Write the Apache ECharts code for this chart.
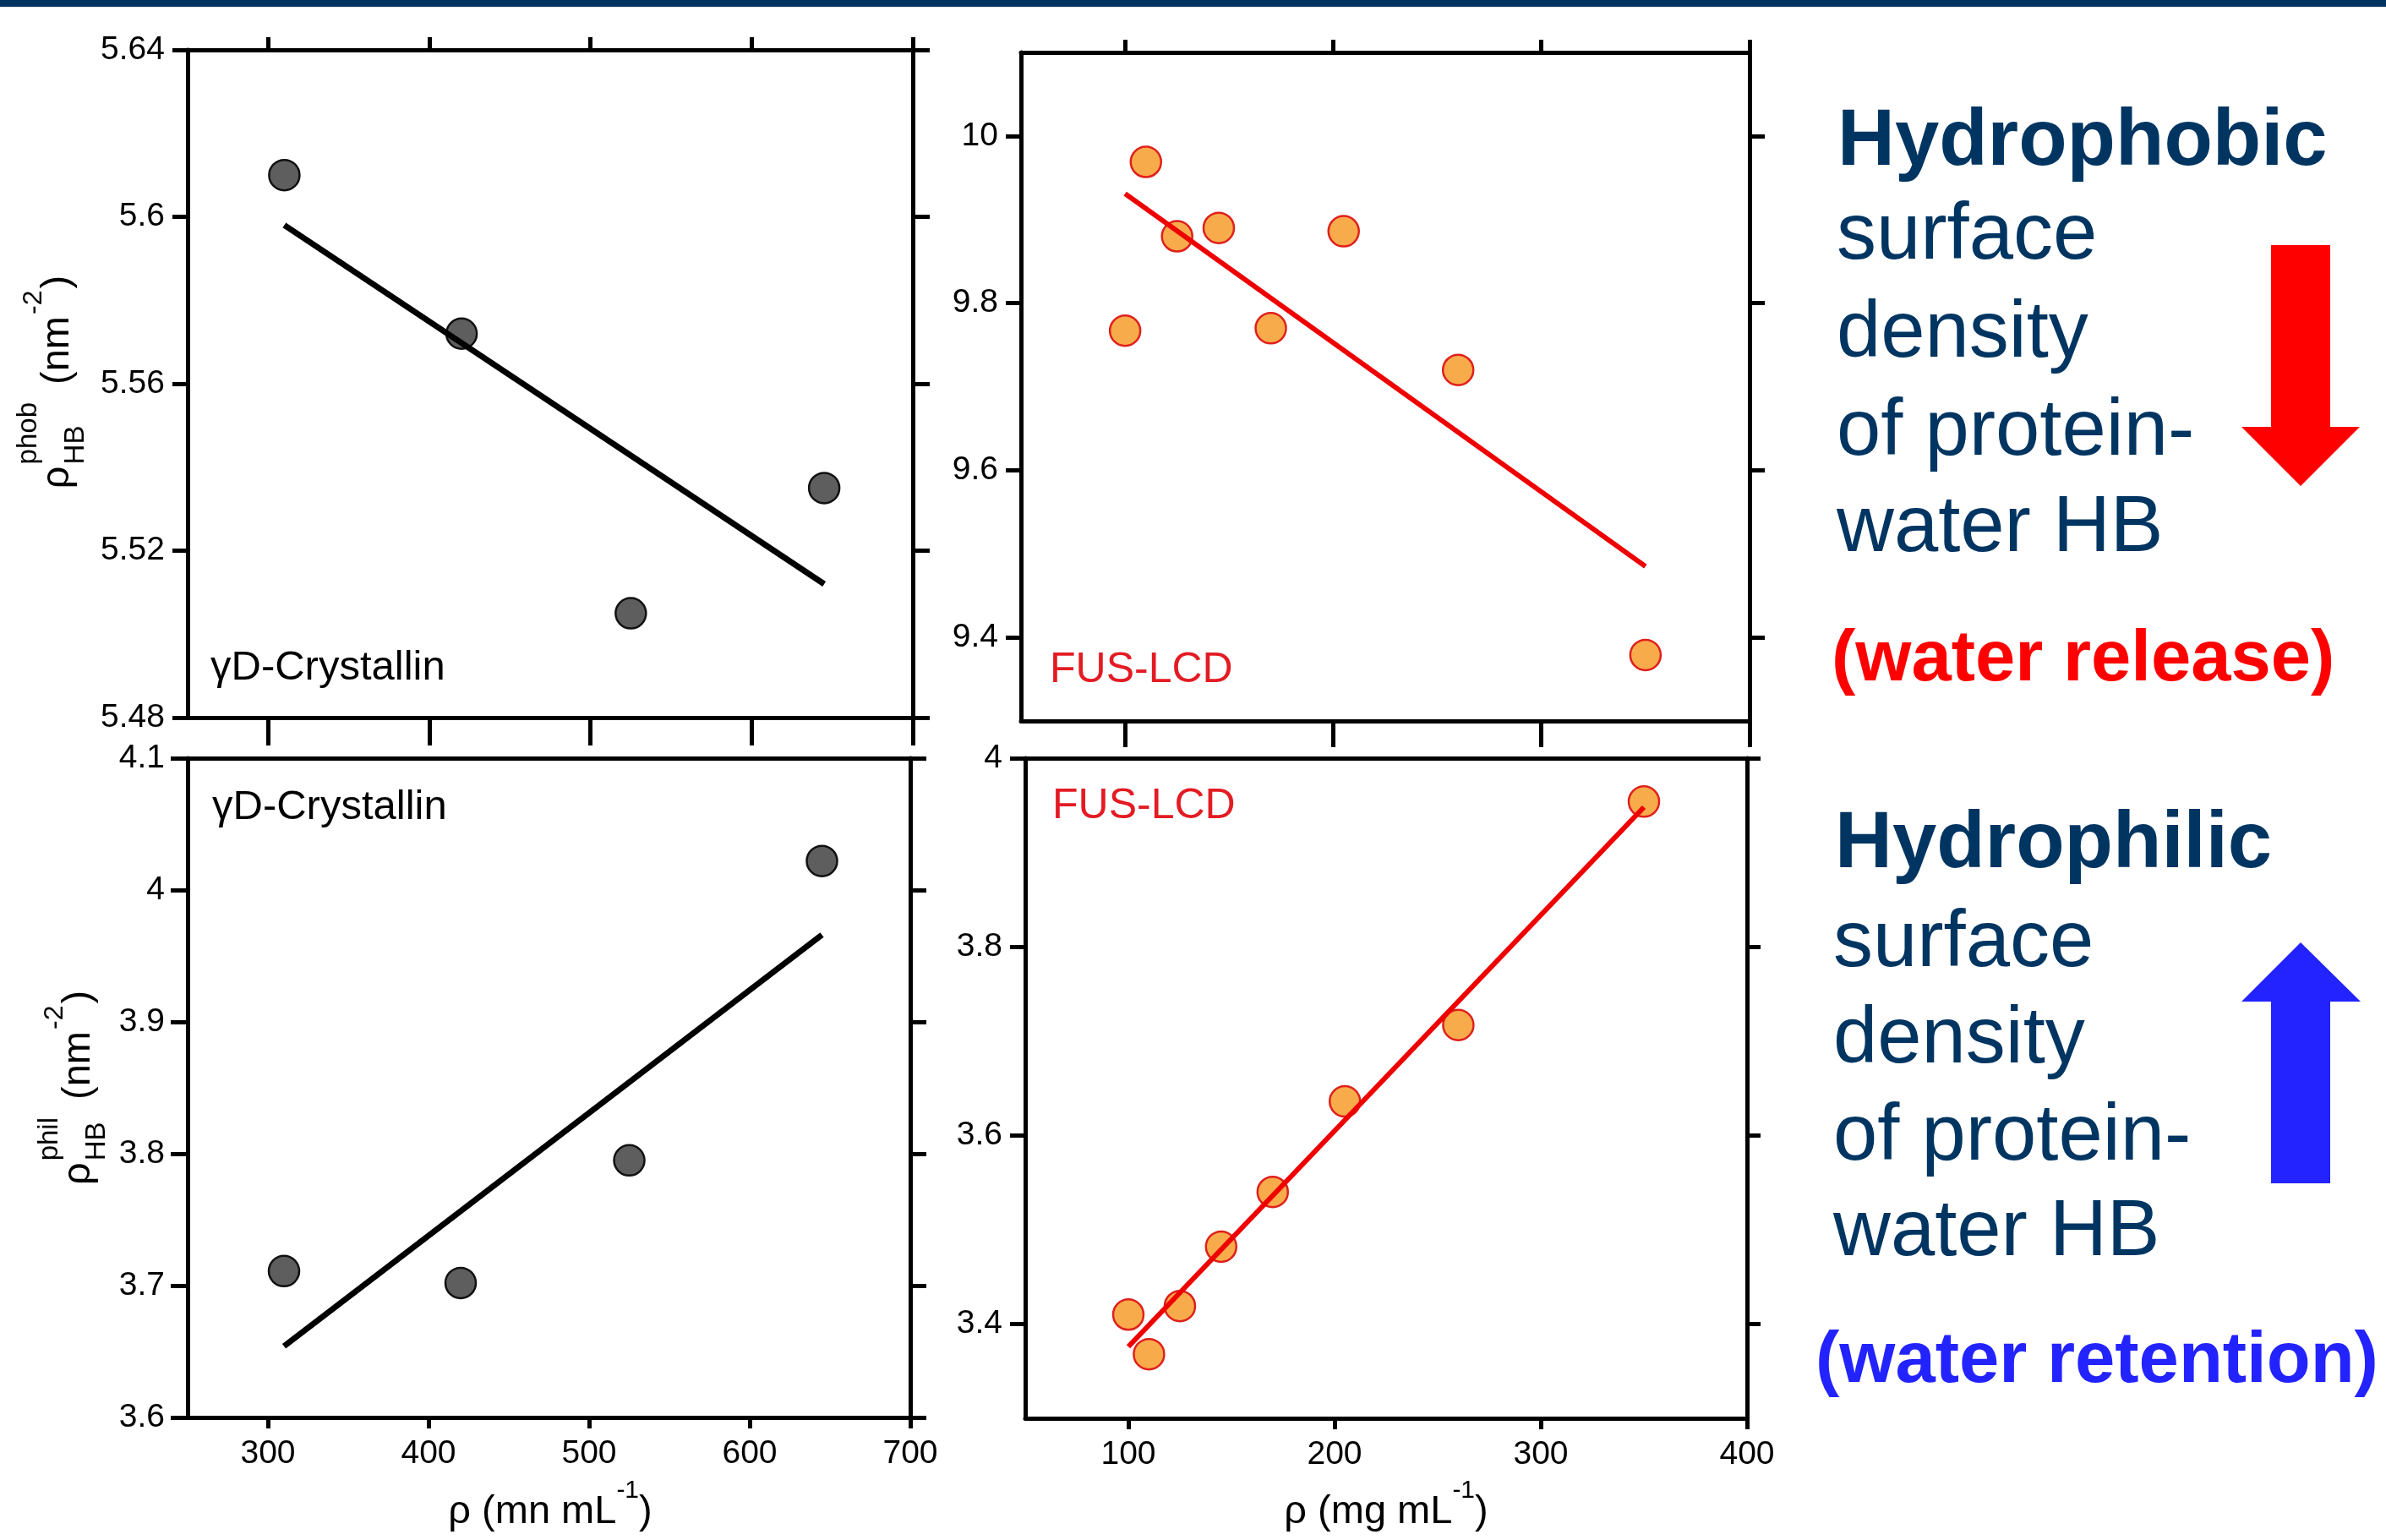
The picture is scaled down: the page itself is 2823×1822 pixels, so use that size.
<!DOCTYPE html>
<html>
<head>
<meta charset="utf-8">
<title>Protein-water HB surface density</title>
<script src="https://cdn.jsdelivr.net/npm/echarts@6/dist/echarts.min.js"></script>
<style>
  html, body { margin: 0; padding: 0; background: #ffffff; }
  #chart { width: 2823px; height: 1822px; }
</style>
</head>
<body>
<div id="chart"></div>
<script>
// gammaD-Crystallin: concentration and HB surface densities
const crysRho = [310, 420, 525, 645];
const crysPhob = [5.610, 5.572, 5.505, 5.535];
const crysPhil = [3.711, 3.702, 3.795, 4.022];
// fit lines as drawn (end points)
const crysFitRho = [310, 645];
const crysPhobFit = [5.598, 5.512];
const crysPhilFit = [3.654, 3.966];

// FUS-LCD
const fusRho = [100, 110, 125, 145, 170, 205, 260, 350];
const fusPhob = [9.767, 9.969, 9.880, 9.890, 9.770, 9.886, 9.720, 9.379];
const fusPhil = [3.410, 3.368, 3.419, 3.482, 3.540, 3.636, 3.717, 3.954];
const fusFitRho = [100, 350];
const fusPhobFit = [9.931, 9.485];
const fusPhilFit = [3.376, 3.948];

// tick values
const crysRhoTicks = [300, 400, 500, 600, 700];
const fusRhoTicks = [100, 200, 300, 400];
const crysPhobTicks = [5.48, 5.52, 5.56, 5.6, 5.64];
const crysPhilTicks = [3.6, 3.7, 3.8, 3.9, 4, 4.1];
const fusPhobTicks = [9.4, 9.6, 9.8, 10];
const fusPhilTicks = [3.4, 3.6, 3.8, 4];

// side notes
const phobHead = 'Hydrophobic';
const philHead = 'Hydrophilic';
const noteLines = ['surface', 'density', 'of protein-', 'water HB'];
const phobNote = '(water release)';
const philNote = '(water retention)';

const FONT = '"Liberation Sans", Arial, sans-serif';
const NAVY = '#003562';
const MID = 0.3; // em offset from baseline to text middle

const ctx = document.createElement('canvas').getContext('2d');
function textWidth(t, size, weight) {
    ctx.font = (weight || 'normal') + ' ' + size + 'px ' + FONT;
    return ctx.measureText(t).width;
}

// text pieces with super/subscripts, centred on the group origin, baseline at y=0
function composite(parts, color) {
    let x = 0, stackW = 0;
    const kids = [];
    parts.forEach(p => {
        const w = textWidth(p.t, p.s) + (p.gap || 0);
        kids.push({
            type: 'text', x: x, y: -(p.r || 0) - MID * p.s,
            style: { text: p.t, fontSize: p.s, fontFamily: FONT, fill: color || '#000', align: 'left', verticalAlign: 'middle' }
        });
        if (p.stack) {
            stackW = Math.max(stackW, w);
        } else {
            x += Math.max(w, stackW);
            stackW = 0;
        }
    });
    kids.forEach(k => { k.x -= x / 2; });
    return kids;
}

function plainText(t, x, baseline, size, color, weight) {
    return {
        type: 'text', x: x, y: baseline - MID * size,
        style: { text: t, fontSize: size, fontFamily: FONT, fontWeight: weight || 'normal', fill: color, align: 'left', verticalAlign: 'middle' }
    };
}

const axisLine = { show: true, onZero: false, lineStyle: { color: '#000', width: 5 } };
function ticks(len, vals) {
    if (!len) return { show: false };
    return { show: true, inside: false, length: len, customValues: vals, lineStyle: { color: '#000', width: 5 } };
}
function labels(show, vals, margin) {
    if (!show) return { show: false };
    return { show: true, customValues: vals, margin: margin, fontSize: 39, fontFamily: FONT, color: '#000' };
}

// four axes for one boxed panel: bottom/top x, left/right y
function panelAxes(grid, xr, yr, xt, yt, o) {
    const xs = [
        { gridIndex: grid, type: 'value', position: 'bottom', min: xr[0], max: xr[1],
          axisLine: axisLine, axisTick: ticks(o.bottom, xt), axisLabel: labels(o.xLabels, xt, 24), splitLine: { show: false } },
        { gridIndex: grid, type: 'value', position: 'top', min: xr[0], max: xr[1],
          axisLine: axisLine, axisTick: ticks(o.top, xt), axisLabel: { show: false }, splitLine: { show: false } }
    ];
    const ys = [
        { gridIndex: grid, type: 'value', position: 'left', min: yr[0], max: yr[1],
          axisLine: axisLine, axisTick: ticks(o.left, yt), axisLabel: labels(true, yt, 27), splitLine: { show: false } },
        { gridIndex: grid, type: 'value', position: 'right', min: yr[0], max: yr[1],
          axisLine: axisLine, axisTick: ticks(o.right, yt), axisLabel: { show: false }, splitLine: { show: false } }
    ];
    return { xs, ys };
}

const pTL = panelAxes(0, [250, 700], [5.48, 5.64], crysRhoTicks, crysPhobTicks, { bottom: 33, top: 15, left: 18, right: 20, xLabels: false });
const pTR = panelAxes(1, [50, 400], [9.3, 10.1], fusRhoTicks, fusPhobTicks, { bottom: 31, top: 15, left: 18, right: 18, xLabels: false });
const pBL = panelAxes(2, [250, 700], [3.6, 4.1], crysRhoTicks, crysPhilTicks, { bottom: 13, top: 0, left: 20, right: 19, xLabels: true });
const pBR = panelAxes(3, [50, 400], [3.3, 4.0], fusRhoTicks, fusPhilTicks, { bottom: 13, top: 0, left: 18, right: 16, xLabels: true });

function dots(grid, xs, ys, fill, border) {
    return {
        type: 'scatter', xAxisIndex: 2 * grid, yAxisIndex: 2 * grid,
        data: xs.map((x, i) => [x, ys[i]]), symbolSize: 36, z: 2,
        itemStyle: { color: fill, borderColor: border, borderWidth: 2.5, opacity: 1 }
    };
}
function fitLine(grid, xs, ys, color, w) {
    return {
        type: 'line', xAxisIndex: 2 * grid, yAxisIndex: 2 * grid,
        data: xs.map((x, i) => [x, ys[i]]), symbol: 'none', z: 3, silent: true,
        lineStyle: { color: color, width: w }
    };
}

const GRAY = '#5e5e5e', ORANGE = '#f8ab4b', RED_EDGE = '#e0201c', RED = '#ee0000';

const yTitle = (sup) => [
    { t: 'ρ', s: 47, gap: 2 },
    { t: sup, s: 33, r: 38, stack: true, gap: 8 },
    { t: 'HB', s: 33, r: -18 },
    { t: ' (nm', s: 47, gap: 2 },
    { t: '-2', s: 32, r: 32, gap: 2 },
    { t: ')', s: 47 }
];
const xTitle = (unit) => [
    { t: 'ρ (' + unit + ' mL', s: 47 },
    { t: '-1', s: 30, r: 30 },
    { t: ')', s: 47 }
];

const graphics = [
    { type: 'rect', shape: { x: 0, y: 0, width: 2823, height: 8 }, style: { fill: '#00335f' } },
    { type: 'group', x: 82, y: 452, rotation: Math.PI / 2, children: composite(yTitle('phob')) },
    { type: 'group', x: 107, y: 1287, rotation: Math.PI / 2, children: composite(yTitle('phil')) },
    { type: 'group', x: 651, y: 1803, children: composite(xTitle('mn')) },
    { type: 'group', x: 1640, y: 1803, children: composite(xTitle('mg')) },
    plainText('γD-Crystallin', 249, 805, 49, '#000'),
    plainText('γD-Crystallin', 251, 970, 49, '#000'),
    plainText('FUS-LCD', 1242, 808, 50, '#e31b23'),
    plainText('FUS-LCD', 1245, 969, 50, '#e31b23'),
    plainText(phobHead, 2174, 197, 94, NAVY, 'bold'),
    plainText(philHead, 2171, 1028, 94, NAVY, 'bold'),
    plainText(phobNote, 2167, 807, 85, '#ff0000', 'bold'),
    plainText(philNote, 2148, 1637, 85, '#2323ff', 'bold'),
    { type: 'polygon', shape: { points: [[2687, 290], [2757, 290], [2757, 505], [2792, 505], [2722, 575], [2652, 505], [2687, 505]] }, style: { fill: '#ff0000' } },
    { type: 'polygon', shape: { points: [[2722, 1115], [2793, 1185], [2757, 1185], [2757, 1400], [2687, 1400], [2687, 1185], [2652, 1185]] }, style: { fill: '#2323ff' } }
];
const topBase = [308, 424, 540, 654];
const botBase = [1145, 1259, 1374, 1487];
noteLines.forEach((t, i) => {
    graphics.push(plainText(t, 2173, topBase[i], 94, NAVY));
    graphics.push(plainText(t, 2169, botBase[i], 94, NAVY));
});

const option = {
    backgroundColor: '#ffffff',
    animation: false,
    grid: [
        { left: 222, top: 59, width: 858, height: 790, outerBoundsMode: 'none' },
        { left: 1208, top: 62, width: 862, height: 791, outerBoundsMode: 'none' },
        { left: 222, top: 897, width: 855, height: 780, outerBoundsMode: 'none' },
        { left: 1213, top: 897, width: 854, height: 781, outerBoundsMode: 'none' }
    ],
    xAxis: [...pTL.xs, ...pTR.xs, ...pBL.xs, ...pBR.xs],
    yAxis: [...pTL.ys, ...pTR.ys, ...pBL.ys, ...pBR.ys],
    series: [
        dots(0, crysRho, crysPhob, GRAY, '#111'),
        fitLine(0, crysFitRho, crysPhobFit, '#000', 7),
        dots(1, fusRho, fusPhob, ORANGE, RED_EDGE),
        fitLine(1, fusFitRho, fusPhobFit, RED, 6),
        dots(2, crysRho, crysPhil, GRAY, '#111'),
        fitLine(2, crysFitRho, crysPhilFit, '#000', 7),
        dots(3, fusRho, fusPhil, ORANGE, RED_EDGE),
        fitLine(3, fusFitRho, fusPhilFit, RED, 6)
    ],
    graphic: graphics
};

const chart = echarts.init(document.getElementById('chart'), null, { renderer: 'canvas' });
chart.setOption(option);
</script>
</body>
</html>
